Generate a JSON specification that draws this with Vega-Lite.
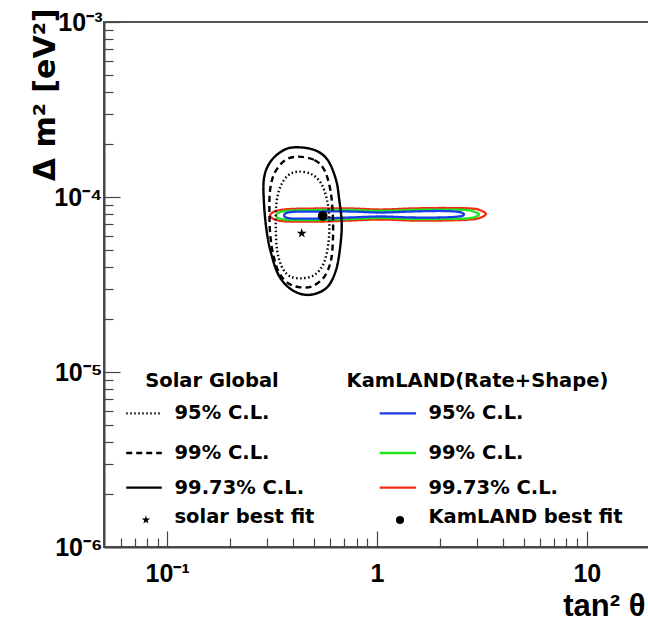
{
  "$schema": "https://vega.github.io/schema/vega-lite/v6.json",
  "autosize": "none",
  "width": 546,
  "height": 525,
  "padding": {"left": 104, "top": 22, "right": 0, "bottom": 75},
  "background": "white",
  "config": {
    "view": {"stroke": "#555", "strokeWidth": 2},
    "axis": {"grid": false, "domainColor": "#444", "domainWidth": 2, "tickColor": "#444", "tickWidth": 1.2, "labelColor": "black", "titleColor": "black", "labelOverlap": false, "labelFlush": false, "labelBound": false}
  },
  "datasets": {
    "solar": [
      {"s": "s997", "o": 1, "x": 0.4035, "y": 1.923e-4}, {"s": "s997", "o": 2, "x": 0.503, "y": 1.857e-4}, {"s": "s997", "o": 3, "x": 0.582, "y": 1.627e-4}, {"s": "s997", "o": 4, "x": 0.638, "y": 1.251e-4}, {"s": "s997", "o": 5, "x": 0.661, "y": 9.61e-5}, {"s": "s997", "o": 6, "x": 0.679, "y": 7.08e-5}, {"s": "s997", "o": 7, "x": 0.668, "y": 5.2e-5}, {"s": "s997", "o": 8, "x": 0.638, "y": 3.83e-5}, {"s": "s997", "o": 9, "x": 0.582, "y": 3.07e-5}, {"s": "s997", "o": 10, "x": 0.503, "y": 2.79e-5}, {"s": "s997", "o": 11, "x": 0.4345, "y": 2.79e-5}, {"s": "s997", "o": 12, "x": 0.3757, "y": 3.07e-5}, {"s": "s997", "o": 13, "x": 0.3365, "y": 3.66e-5}, {"s": "s997", "o": 14, "x": 0.3128, "y": 4.77e-5}, {"s": "s997", "o": 15, "x": 0.299, "y": 6.2e-5}, {"s": "s997", "o": 16, "x": 0.29, "y": 8.81e-5}, {"s": "s997", "o": 17, "x": 0.2887, "y": 1.251e-4}, {"s": "s997", "o": 18, "x": 0.307, "y": 1.558e-4}, {"s": "s997", "o": 19, "x": 0.349, "y": 1.815e-4},
      {"s": "s99", "o": 1, "x": 0.419, "y": 1.7e-4}, {"s": "s99", "o": 2, "x": 0.503, "y": 1.627e-4}, {"s": "s99", "o": 3, "x": 0.5613, "y": 1.426e-4}, {"s": "s99", "o": 4, "x": 0.5995, "y": 1.096e-4}, {"s": "s99", "o": 5, "x": 0.615, "y": 8.07e-5}, {"s": "s99", "o": 6, "x": 0.6173, "y": 5.93e-5}, {"s": "s99", "o": 7, "x": 0.6039, "y": 4.365e-5}, {"s": "s99", "o": 8, "x": 0.5613, "y": 3.504e-5}, {"s": "s99", "o": 9, "x": 0.494, "y": 3.1e-5}, {"s": "s99", "o": 10, "x": 0.4346, "y": 3.047e-5}, {"s": "s99", "o": 11, "x": 0.3825, "y": 3.184e-5}, {"s": "s99", "o": 12, "x": 0.3426, "y": 3.662e-5}, {"s": "s99", "o": 13, "x": 0.322, "y": 4.56e-5}, {"s": "s99", "o": 14, "x": 0.3105, "y": 5.93e-5}, {"s": "s99", "o": 15, "x": 0.3071, "y": 8.07e-5}, {"s": "s99", "o": 16, "x": 0.3094, "y": 1.096e-4}, {"s": "s99", "o": 17, "x": 0.3245, "y": 1.365e-4}, {"s": "s99", "o": 18, "x": 0.362, "y": 1.613e-4},
      {"s": "s95", "o": 1, "x": 0.419, "y": 1.395e-4}, {"s": "s95", "o": 2, "x": 0.485, "y": 1.353e-4}, {"s": "s95", "o": 3, "x": 0.5412, "y": 1.197e-4}, {"s": "s95", "o": 4, "x": 0.5777, "y": 9.61e-5}, {"s": "s95", "o": 5, "x": 0.5929, "y": 7.39e-5}, {"s": "s95", "o": 6, "x": 0.5865, "y": 5.43e-5}, {"s": "s95", "o": 7, "x": 0.5572, "y": 4.18e-5}, {"s": "s95", "o": 8, "x": 0.503, "y": 3.583e-5}, {"s": "s95", "o": 9, "x": 0.4346, "y": 3.43e-5}, {"s": "s95", "o": 10, "x": 0.3825, "y": 3.537e-5}, {"s": "s95", "o": 11, "x": 0.3516, "y": 3.997e-5}, {"s": "s95", "o": 12, "x": 0.3341, "y": 4.98e-5}, {"s": "s95", "o": 13, "x": 0.3292, "y": 6.77e-5}, {"s": "s95", "o": 14, "x": 0.3316, "y": 9.2e-5}, {"s": "s95", "o": 15, "x": 0.3464, "y": 1.146e-4}, {"s": "s95", "o": 16, "x": 0.3756, "y": 1.324e-4}
    ],
    "kamland": [
      {"s": "k997", "o": 1, "x": 0.3094, "y": 7.84e-5}, {"s": "k997", "o": 2, "x": 0.3304, "y": 8.32e-5}, {"s": "k997", "o": 3, "x": 0.3896, "y": 8.54e-5}, {"s": "k997", "o": 4, "x": 0.5412, "y": 8.6e-5}, {"s": "k997", "o": 5, "x": 0.7518, "y": 8.6e-5}, {"s": "k997", "o": 6, "x": 1.045, "y": 8.48e-5}, {"s": "k997", "o": 7, "x": 1.452, "y": 8.6e-5}, {"s": "k997", "o": 8, "x": 2.017, "y": 8.65e-5}, {"s": "k997", "o": 9, "x": 2.803, "y": 8.6e-5}, {"s": "k997", "o": 10, "x": 3.128, "y": 8.37e-5}, {"s": "k997", "o": 11, "x": 3.304, "y": 7.99e-5}, {"s": "k997", "o": 12, "x": 3.128, "y": 7.64e-5}, {"s": "k997", "o": 13, "x": 2.803, "y": 7.44e-5}, {"s": "k997", "o": 14, "x": 2.017, "y": 7.34e-5}, {"s": "k997", "o": 15, "x": 1.452, "y": 7.34e-5}, {"s": "k997", "o": 16, "x": 1.045, "y": 7.44e-5}, {"s": "k997", "o": 17, "x": 0.7518, "y": 7.34e-5}, {"s": "k997", "o": 18, "x": 0.5412, "y": 7.24e-5}, {"s": "k997", "o": 19, "x": 0.3896, "y": 7.24e-5}, {"s": "k997", "o": 20, "x": 0.3304, "y": 7.39e-5},
      {"s": "k99", "o": 1, "x": 0.3304, "y": 7.84e-5}, {"s": "k99", "o": 2, "x": 0.3415, "y": 8.15e-5}, {"s": "k99", "o": 3, "x": 0.3896, "y": 8.37e-5}, {"s": "k99", "o": 4, "x": 0.5412, "y": 8.43e-5}, {"s": "k99", "o": 5, "x": 0.7518, "y": 8.43e-5}, {"s": "k99", "o": 6, "x": 1.045, "y": 8.32e-5}, {"s": "k99", "o": 7, "x": 1.452, "y": 8.43e-5}, {"s": "k99", "o": 8, "x": 2.017, "y": 8.48e-5}, {"s": "k99", "o": 9, "x": 2.653, "y": 8.43e-5}, {"s": "k99", "o": 10, "x": 2.929, "y": 8.21e-5}, {"s": "k99", "o": 11, "x": 3.06, "y": 7.94e-5}, {"s": "k99", "o": 12, "x": 2.929, "y": 7.69e-5}, {"s": "k99", "o": 13, "x": 2.653, "y": 7.54e-5}, {"s": "k99", "o": 14, "x": 2.017, "y": 7.49e-5}, {"s": "k99", "o": 15, "x": 1.452, "y": 7.49e-5}, {"s": "k99", "o": 16, "x": 1.045, "y": 7.59e-5}, {"s": "k99", "o": 17, "x": 0.7518, "y": 7.49e-5}, {"s": "k99", "o": 18, "x": 0.5412, "y": 7.39e-5}, {"s": "k99", "o": 19, "x": 0.3896, "y": 7.39e-5}, {"s": "k99", "o": 20, "x": 0.3415, "y": 7.54e-5},
      {"s": "k95", "o": 1, "x": 0.3607, "y": 7.84e-5}, {"s": "k95", "o": 2, "x": 0.3896, "y": 8.21e-5}, {"s": "k95", "o": 3, "x": 0.5412, "y": 8.26e-5}, {"s": "k95", "o": 4, "x": 0.7518, "y": 8.26e-5}, {"s": "k95", "o": 5, "x": 1.045, "y": 8.15e-5}, {"s": "k95", "o": 6, "x": 1.452, "y": 8.26e-5}, {"s": "k95", "o": 7, "x": 2.017, "y": 8.32e-5}, {"s": "k95", "o": 8, "x": 2.458, "y": 8.21e-5}, {"s": "k95", "o": 9, "x": 2.596, "y": 7.94e-5}, {"s": "k95", "o": 10, "x": 2.458, "y": 7.74e-5}, {"s": "k95", "o": 11, "x": 2.017, "y": 7.64e-5}, {"s": "k95", "o": 12, "x": 1.452, "y": 7.64e-5}, {"s": "k95", "o": 13, "x": 1.045, "y": 7.74e-5}, {"s": "k95", "o": 14, "x": 0.7518, "y": 7.64e-5}, {"s": "k95", "o": 15, "x": 0.5412, "y": 7.54e-5}, {"s": "k95", "o": 16, "x": 0.3896, "y": 7.54e-5}
    ],
    "legendLines": [
      {"s": "s95", "o": 1, "x": 0.0638, "y": 5.8e-6}, {"s": "s95", "o": 2, "x": 0.0943, "y": 5.8e-6},
      {"s": "s99", "o": 1, "x": 0.0638, "y": 3.445e-6}, {"s": "s99", "o": 2, "x": 0.0943, "y": 3.445e-6},
      {"s": "s997", "o": 1, "x": 0.0638, "y": 2.184e-6}, {"s": "s997", "o": 2, "x": 0.0943, "y": 2.184e-6},
      {"s": "k95", "o": 1, "x": 1.03, "y": 5.8e-6}, {"s": "k95", "o": 2, "x": 1.534, "y": 5.8e-6},
      {"s": "k99", "o": 1, "x": 1.03, "y": 3.445e-6}, {"s": "k99", "o": 2, "x": 1.534, "y": 3.445e-6},
      {"s": "k997", "o": 1, "x": 1.03, "y": 2.184e-6}, {"s": "k997", "o": 2, "x": 1.534, "y": 2.184e-6}
    ],
    "labels": [
      {"x": 0.0786, "y": 8.92e-6, "t": "Solar Global"},
      {"x": 0.7159, "y": 8.92e-6, "t": "KamLAND(Rate+Shape)"},
      {"x": 0.1084, "y": 5.8e-6, "t": "95% C.L."},
      {"x": 0.1084, "y": 3.445e-6, "t": "99% C.L."},
      {"x": 0.1084, "y": 2.184e-6, "t": "99.73% C.L."},
      {"x": 0.1084, "y": 1.484e-6, "t": "solar best fit"},
      {"x": 1.759, "y": 5.8e-6, "t": "95% C.L."},
      {"x": 1.759, "y": 3.445e-6, "t": "99% C.L."},
      {"x": 1.759, "y": 2.184e-6, "t": "99.73% C.L."},
      {"x": 1.759, "y": 1.484e-6, "t": "KamLAND best fit"}
    ],
    "points": [
      {"k": "star-plot", "x": 0.4379, "y": 6.2e-5},
      {"k": "dot-plot", "x": 0.5511, "y": 7.79e-5},
      {"k": "star-legend", "x": 0.0792, "y": 1.427e-6},
      {"k": "dot-legend", "x": 1.287, "y": 1.427e-6}
    ]
  },
  "encoding": {
    "x": {
      "field": "x", "type": "quantitative",
      "scale": {"type": "log", "domain": [0.05, 20], "nice": false, "clamp": false},
      "axis": {
        "values": [0.06, 0.07, 0.08, 0.09, 0.1, 0.2, 0.3, 0.4, 0.5, 0.6, 0.7, 0.8, 0.9, 1, 2, 3, 4, 5, 6, 7, 8, 9, 10],
        "labelExpr": "datum.value == 0.1 ? '10⁻¹' : datum.value == 1 ? '1' : datum.value == 10 ? '10' : ''",
        "tickSize": {"condition": {"test": "datum.value == 0.1 || datum.value == 1 || datum.value == 10", "value": -16}, "value": -9},
        "labelPadding": 30,
        "labelFont": "Liberation Sans", "labelFontWeight": "bold", "labelFontSize": 25,
        "title": "tan² θ", "titleFont": "Liberation Sans", "titleFontWeight": "bold", "titleFontSize": 31,
        "titleAlign": "right", "titleAnchor": "end", "titleBaseline": "alphabetic", "titleX": 541, "titleY": 68
      }
    },
    "y": {
      "field": "y", "type": "quantitative",
      "scale": {"type": "log", "domain": [0.000001, 0.001], "nice": false},
      "axis": {
        "values": [0.000001, 0.000002, 0.000003, 0.000004, 0.000005, 0.000006, 0.000007, 0.000008, 0.000009, 0.00001, 0.00002, 0.00003, 0.00004, 0.00005, 0.00006, 0.00007, 0.00008, 0.00009, 0.0001, 0.0002, 0.0003, 0.0004, 0.0005, 0.0006, 0.0007, 0.0008, 0.0009, 0.001],
        "labelExpr": "datum.value == 0.000001 ? '10⁻⁶' : datum.value == 0.00001 ? '10⁻⁵' : datum.value == 0.0001 ? '10⁻⁴' : datum.value == 0.001 ? '10⁻³' : ''",
        "tickSize": {"condition": {"test": "datum.value == 0.000001 || datum.value == 0.00001 || datum.value == 0.0001 || datum.value == 0.001", "value": -16}, "value": -9},
        "labelPadding": 18,
        "labelFont": "Liberation Sans", "labelFontWeight": "bold", "labelFontSize": 25,
        "title": "Δ m² [eV²]", "titleFont": "DejaVu Sans", "titleFontWeight": "bold", "titleFontSize": 30,
        "titleAngle": -90, "titleAlign": "right", "titleAnchor": "end", "titleBaseline": "alphabetic", "titleX": -50, "titleY": -14
      }
    }
  },
  "layer": [
    {
      "data": {"name": "kamland"},
      "mark": {"type": "line", "interpolate": "cardinal-closed", "strokeWidth": 2.3},
      "encoding": {
        "order": {"field": "o", "type": "quantitative"},
        "detail": {"field": "s"},
        "color": {"field": "s", "type": "nominal", "legend": null,
          "scale": {"domain": ["s95", "s99", "s997", "k95", "k99", "k997"], "range": ["black", "black", "black", "#1a3ce8", "#1ee61e", "#f52a14"]}},
        "strokeDash": {"field": "s", "type": "nominal", "legend": null,
          "scale": {"domain": ["s95", "s99", "s997", "k95", "k99", "k997"], "range": [[1.5, 2.5], [6, 4], [1, 0], [1, 0], [1, 0], [1, 0]]}}
      }
    },
    {
      "data": {"name": "solar"},
      "mark": {"type": "line", "interpolate": "cardinal-closed", "strokeWidth": 2.4},
      "encoding": {
        "order": {"field": "o", "type": "quantitative"},
        "detail": {"field": "s"},
        "color": {"field": "s", "type": "nominal", "legend": null},
        "strokeDash": {"field": "s", "type": "nominal", "legend": null}
      }
    },
    {
      "data": {"name": "legendLines"},
      "mark": {"type": "line", "strokeWidth": 2.4},
      "encoding": {
        "order": {"field": "o", "type": "quantitative"},
        "detail": {"field": "s"},
        "color": {"field": "s", "type": "nominal", "legend": null},
        "strokeDash": {"field": "s", "type": "nominal", "legend": null}
      }
    },
    {
      "data": {"name": "points"},
      "mark": {"type": "point", "filled": true, "opacity": 1, "color": "black"},
      "encoding": {
        "shape": {"field": "k", "type": "nominal", "legend": null,
          "scale": {"domain": ["star-plot", "dot-plot", "star-legend", "dot-legend"],
            "range": ["M0,-1L0.2245,-0.309L0.9511,-0.309L0.3633,0.118L0.5878,0.809L0,0.382L-0.5878,0.809L-0.3633,0.118L-0.9511,-0.309L-0.2245,-0.309Z", "circle", "M0,-1L0.2245,-0.309L0.9511,-0.309L0.3633,0.118L0.5878,0.809L0,0.382L-0.5878,0.809L-0.3633,0.118L-0.9511,-0.309L-0.2245,-0.309Z", "circle"]}},
        "size": {"field": "k", "type": "nominal", "legend": null,
          "scale": {"domain": ["star-plot", "dot-plot", "star-legend", "dot-legend"], "range": [110, 64, 49, 64]}}
      }
    },
    {
      "data": {"name": "labels"},
      "mark": {"type": "text", "align": "left", "baseline": "middle", "font": "DejaVu Sans", "fontWeight": "bold", "fontSize": 19.5, "color": "black"},
      "encoding": {"text": {"field": "t"}}
    }
  ]
}
